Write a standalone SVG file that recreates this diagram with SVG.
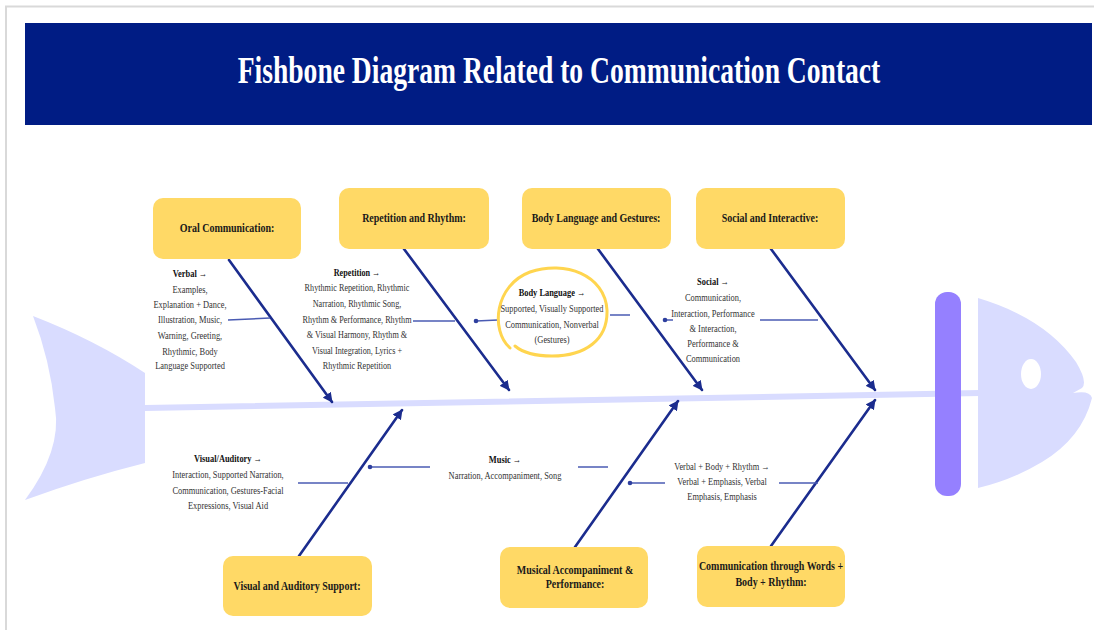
<svg xmlns="http://www.w3.org/2000/svg" width="1094" height="630" viewBox="0 0 1094 630">
  <style>
    .box { fill: #FFD966; }
    .boxlabel { font-family: "Liberation Serif", "Times New Roman", serif; font-weight: bold; font-size: 12.5px; fill: #1a1a1a; text-anchor: middle; }
    .note { font-family: "Liberation Serif", "Times New Roman", serif; font-size: 10.5px; fill: #333; text-anchor: middle; }
    .note .hd { font-weight: bold; fill: #111; }
    .bone { stroke: #1B2C8E; stroke-width: 2.6; fill: none; stroke-linecap: round; }
    .sub { stroke: #4A5BB3; stroke-width: 1.5; fill: none; }
    .dot { fill: #2E3F9E; }
    .fish { fill: #D9DCFF; }
  </style>
  <defs>
    <marker id="tip" viewBox="0 0 10 10" refX="9" refY="5" markerWidth="10" markerHeight="10" markerUnits="userSpaceOnUse" orient="auto">
      <path d="M0,0 L10,5 L0,10 Z" fill="#1B2C8E"/>
    </marker>
  </defs>

  <!-- page frame -->
  <rect x="0" y="0" width="1094" height="630" fill="#ffffff"/>
  <path d="M6,630 V6.5 H1094" fill="none" stroke="#d9d9d9" stroke-width="2"/>

  <!-- title bar -->
  <g id="title">
    <rect x="25" y="23" width="1067" height="102" fill="#001C84"/>
    <g transform="translate(559,0) scale(0.726,1)">
      <text x="0" y="83" font-family="Liberation Serif, Times New Roman, serif" font-weight="bold" font-size="38" fill="#ffffff" text-anchor="middle">Fishbone Diagram Related to Communication Contact</text>
    </g>
  </g>

  <!-- fish body: tail, spine, gill bar, head -->
  <g id="fish">
    <path class="fish" d="M33,316 Q95,340 145,373 L145,463 Q85,478 25,500 Q62,450 55,408 Q50,360 33,316 Z"/>
    <path d="M145,408 L980,393" stroke="#D9DCFF" stroke-width="6" stroke-linecap="round"/>
    <rect x="935" y="292" width="26" height="204" rx="12" fill="#9580FF"/>
    <path class="fish" d="M978,298 Q1045,318 1076,362 Q1088,382 1082,388 L1073,393 Q1090,390 1092,398 Q1082,438 1042,462 Q1012,480 978,488 Z"/>
    <ellipse cx="1031" cy="374" rx="10" ry="15" fill="#ffffff"/>
  </g>

  <!-- connectors: main bones and sub branches -->
  <g id="connectors">
    <line class="bone" x1="229" y1="260" x2="332" y2="402" marker-end="url(#tip)"/>
    <line class="bone" x1="404" y1="249" x2="509" y2="390" marker-end="url(#tip)"/>
    <line class="bone" x1="598" y1="249" x2="702" y2="390" marker-end="url(#tip)"/>
    <line class="bone" x1="771" y1="249" x2="875" y2="390" marker-end="url(#tip)"/>
    <line class="bone" x1="299" y1="556" x2="402" y2="410" marker-end="url(#tip)"/>
    <line class="bone" x1="575" y1="547" x2="678" y2="401" marker-end="url(#tip)"/>
    <line class="bone" x1="771" y1="546" x2="875" y2="400" marker-end="url(#tip)"/>

    <line class="sub" x1="228" y1="320" x2="270" y2="318"/>
    <line class="sub" x1="413" y1="321" x2="455" y2="321"/>
    <line class="sub" x1="476" y1="321" x2="498" y2="320"/>
    <circle class="dot" cx="476" cy="321" r="2.3"/>
    <line class="sub" x1="610" y1="315" x2="630" y2="315"/>
    <line class="sub" x1="665" y1="320" x2="673" y2="320"/>
    <circle class="dot" cx="665" cy="320" r="2.3"/>
    <line class="sub" x1="760" y1="320" x2="818" y2="320"/>
    <line class="sub" x1="298" y1="483" x2="348" y2="483"/>
    <line class="sub" x1="370" y1="467" x2="430" y2="467"/>
    <circle class="dot" cx="370" cy="467" r="2.3"/>
    <line class="sub" x1="578" y1="467" x2="608" y2="467"/>
    <line class="sub" x1="630" y1="483" x2="665" y2="483"/>
    <circle class="dot" cx="630" cy="483" r="2.3"/>
    <line class="sub" x1="779" y1="483" x2="818" y2="483"/>
  </g>

  <!-- category boxes -->
  <g id="oral">
    <rect class="box" x="153" y="198" width="148" height="61" rx="10"/>
    <g transform="translate(227,0) scale(0.8,1)"><text class="boxlabel" x="0" y="232">Oral Communication:</text></g>
  </g>
  <g id="repetition">
    <rect class="box" x="339" y="188" width="150" height="61" rx="10"/>
    <g transform="translate(414,0) scale(0.8,1)"><text class="boxlabel" x="0" y="222">Repetition and Rhythm:</text></g>
  </g>
  <g id="body-language">
    <rect class="box" x="522" y="188" width="149" height="61" rx="10"/>
    <g transform="translate(596,0) scale(0.8,1)"><text class="boxlabel" x="0" y="222">Body Language and Gestures:</text></g>
  </g>
  <g id="social">
    <rect class="box" x="696" y="188" width="149" height="61" rx="10"/>
    <g transform="translate(770,0) scale(0.8,1)"><text class="boxlabel" x="0" y="222">Social and Interactive:</text></g>
  </g>
  <g id="visual-auditory">
    <rect class="box" x="223" y="556" width="149" height="60" rx="10"/>
    <g transform="translate(297,0) scale(0.8,1)"><text class="boxlabel" x="0" y="590">Visual and Auditory Support:</text></g>
  </g>
  <g id="musical">
    <rect class="box" x="500" y="547" width="148" height="61" rx="10"/>
    <g transform="translate(575,0) scale(0.8,1)"><text class="boxlabel" x="0" y="574">Musical Accompaniment &amp;</text><text class="boxlabel" x="0" y="588">Performance:</text></g>
  </g>
  <g id="words-body-rhythm">
    <rect class="box" x="697" y="546" width="148" height="61" rx="10"/>
    <g transform="translate(771,0) scale(0.8,1)"><text class="boxlabel" x="0" y="570">Communication through Words +</text><text class="boxlabel" x="0" y="586">Body + Rhythm:</text></g>
  </g>

  <!-- detail notes -->
  <g id="note-verbal" transform="translate(190,0) scale(0.8,1)">
    <text class="note" x="0" y="277"><tspan class="hd">Verbal →</tspan></text>
    <text class="note" x="0" y="293">Examples,</text>
    <text class="note" x="0" y="308">Explanation + Dance,</text>
    <text class="note" x="0" y="323">Illustration, Music,</text>
    <text class="note" x="0" y="339">Warning, Greeting,</text>
    <text class="note" x="0" y="355">Rhythmic, Body</text>
    <text class="note" x="0" y="369">Language Supported</text>
  </g>
  <g id="note-repetition" transform="translate(357,0) scale(0.78,1)">
    <text class="note" x="0" y="276"><tspan class="hd">Repetition →</tspan></text>
    <text class="note" x="0" y="291">Rhythmic Repetition, Rhythmic</text>
    <text class="note" x="0" y="307">Narration, Rhythmic Song,</text>
    <text class="note" x="0" y="323">Rhythm &amp; Performance, Rhythm</text>
    <text class="note" x="0" y="338">&amp; Visual Harmony, Rhythm &amp;</text>
    <text class="note" x="0" y="354">Visual Integration, Lyrics +</text>
    <text class="note" x="0" y="369">Rhythmic Repetition</text>
  </g>
  <g id="note-body">
    <path d="M510,348 C490,330 495,285 530,272 C565,260 605,275 607,310 C608,340 585,356 552,356 C535,356 522,352 515,346" fill="none" stroke="#FFD54F" stroke-width="3" stroke-linecap="round"/>
    <g transform="translate(552,0) scale(0.8,1)">
      <text class="note" x="0" y="296"><tspan class="hd">Body Language →</tspan></text>
      <text class="note" x="0" y="312">Supported, Visually Supported</text>
      <text class="note" x="0" y="328">Communication, Nonverbal</text>
      <text class="note" x="0" y="343">(Gestures)</text>
    </g>
  </g>
  <g id="note-social" transform="translate(713,0) scale(0.8,1)">
    <text class="note" x="0" y="285"><tspan class="hd">Social →</tspan></text>
    <text class="note" x="0" y="301">Communication,</text>
    <text class="note" x="0" y="317">Interaction, Performance</text>
    <text class="note" x="0" y="332">&amp; Interaction,</text>
    <text class="note" x="0" y="347">Performance &amp;</text>
    <text class="note" x="0" y="362">Communication</text>
  </g>
  <g id="note-visual" transform="translate(228,0) scale(0.8,1)">
    <text class="note" x="0" y="462"><tspan class="hd">Visual/Auditory →</tspan></text>
    <text class="note" x="0" y="478">Interaction, Supported Narration,</text>
    <text class="note" x="0" y="494">Communication, Gestures-Facial</text>
    <text class="note" x="0" y="509">Expressions, Visual Aid</text>
  </g>
  <g id="note-music" transform="translate(505,0) scale(0.8,1)">
    <text class="note" x="0" y="463"><tspan class="hd">Music →</tspan></text>
    <text class="note" x="0" y="479">Narration, Accompaniment, Song</text>
  </g>
  <g id="note-verbal-body" transform="translate(722,0) scale(0.8,1)">
    <text class="note" x="0" y="470">Verbal + Body + Rhythm →</text>
    <text class="note" x="0" y="485">Verbal + Emphasis, Verbal</text>
    <text class="note" x="0" y="500">Emphasis, Emphasis</text>
  </g>
</svg>
